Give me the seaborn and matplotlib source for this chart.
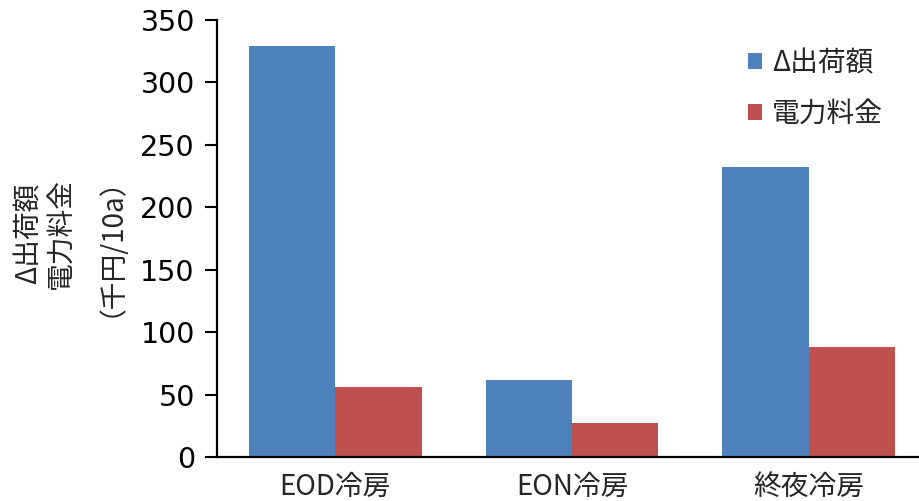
import matplotlib
matplotlib.use("Agg")
import matplotlib.pyplot as plt
import seaborn as sns
import pandas as pd

# Values in thousand yen per 10a
categories = ["EOD冷房", "EON冷房", "終夜冷房"]
series_names = ["Δ出荷額", "電力料金"]
shipment_delta = [329, 62, 232]
power_cost = [56, 27, 88]
y_ticks = [0, 50, 100, 150, 200, 250, 300, 350]
ylabel_lines = ["Δ出荷額", "電力料金", "（千円/10a）"]
colors = ["#4F81BD", "#C0504D"]

sns.set_theme(style="white")
plt.rcParams["font.family"] = ["DejaVu Sans", "Noto Sans CJK JP"]
cjk = ["Noto Sans CJK JP", "DejaVu Sans"]

df = pd.DataFrame({
    "category": categories * 2,
    "series": [series_names[0]] * 3 + [series_names[1]] * 3,
    "value": shipment_delta + power_cost,
})

W, H = 919, 501
fig = plt.figure(figsize=(W / 100, H / 100), dpi=100)
ax = fig.add_axes([217 / W, 44 / H, 710 / W, 437 / H])

sns.barplot(data=df, x="category", y="value", hue="series", order=categories,
            hue_order=series_names, palette=colors, width=0.73, gap=0,
            linewidth=0, saturation=1, errorbar=None, ax=ax)

ax.set_xlim(-0.5, 2.5)
ax.set_ylim(0, 350)
ax.set_yticks(y_ticks)
ax.tick_params(axis="y", which="major", direction="out", length=9, width=1.5,
               left=True, labelsize=20.5, pad=7, color="black", labelcolor="black")
ax.tick_params(axis="x", length=0, pad=11)
for lbl in ax.get_xticklabels():
    lbl.set_fontfamily(cjk)
    lbl.set_fontsize(20)

for side in ["top", "right"]:
    ax.spines[side].set_visible(False)
for side in ["left", "bottom"]:
    ax.spines[side].set_color("black")
    ax.spines[side].set_linewidth(1.6)

ax.set_xlabel("")
ax.set_ylabel("")
# Three-line rotated axis title
for xpos, line in zip([29, 62, 97], ylabel_lines):
    fig.text(xpos / W, 1 - 233 / H, line, rotation=90, ha="center",
             va="center", fontsize=20, family=cjk)

ax.legend(loc="upper left", bbox_to_anchor=((737 - 217) / 710, 1 - 17 / 437),
          frameon=False, handlelength=0.5, handleheight=0.5,
          handletextpad=0.35, labelspacing=0.76, borderaxespad=0,
          prop={"family": cjk, "size": 20})

fig.savefig("out.png", dpi=100)
